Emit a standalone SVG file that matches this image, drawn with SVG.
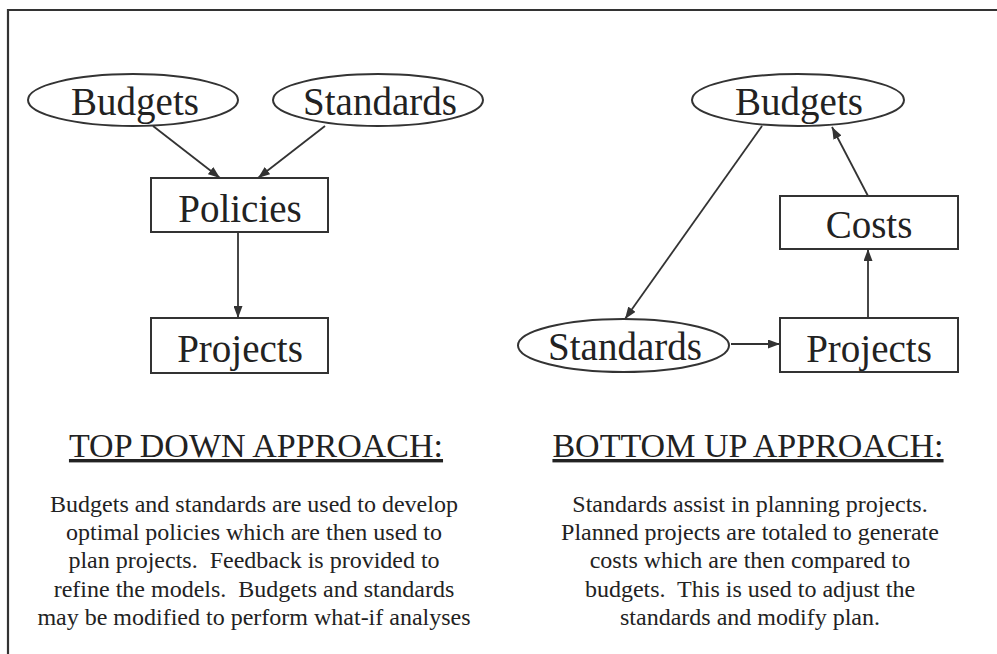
<svg xmlns="http://www.w3.org/2000/svg" width="997" height="654" viewBox="0 0 997 654">
  <style>
    text { font-family: 'Liberation Serif', Tinos, 'Times New Roman', Times, 'DejaVu Serif', 'Noto Serif', serif; fill: #222; text-anchor: middle; }
    .node { font-size: 39px; }
    .head { font-size: 34px; text-decoration: underline; }
    .body { font-size: 24px; }
    .shape { fill: #fff; stroke: #333; stroke-width: 2; }
    .conn { stroke: #333; stroke-width: 1.8; fill: none; marker-end: url(#arrow); }
    .frame { stroke: #333; stroke-width: 2.2; fill: none; }
  </style>
  <defs>
    <marker id="arrow" markerUnits="userSpaceOnUse" markerWidth="12" markerHeight="9" refX="12" refY="4.5" orient="auto">
      <path d="M0,0 L12,4.5 L0,9 z" fill="#333"/>
    </marker>
  </defs>
  <rect width="997" height="654" fill="#fff"/>
  <path class="frame" d="M8,654 L8,10 L997,10"/>

  <g id="connectors">
    <line class="conn" x1="153" y1="126" x2="220" y2="178"/>
    <line class="conn" x1="325" y1="126" x2="258" y2="178"/>
    <line class="conn" x1="238" y1="232" x2="238" y2="318"/>
    <line class="conn" x1="762" y1="126" x2="625" y2="319"/>
    <line class="conn" x1="868" y1="196" x2="832" y2="127"/>
    <line class="conn" x1="868" y1="318" x2="868" y2="249"/>
    <line class="conn" x1="731" y1="344" x2="780" y2="344"/>
  </g>

  <g id="td-budgets">
    <ellipse class="shape" cx="133" cy="100" rx="105" ry="26"/>
    <text class="node" x="135" y="115">Budgets</text>
  </g>
  <g id="td-standards">
    <ellipse class="shape" cx="378" cy="100" rx="105" ry="26"/>
    <text class="node" x="380" y="115">Standards</text>
  </g>
  <g id="td-policies">
    <rect class="shape" x="151" y="178" width="177" height="54"/>
    <text class="node" x="240" y="222">Policies</text>
  </g>
  <g id="td-projects">
    <rect class="shape" x="151" y="318" width="177" height="55"/>
    <text class="node" x="240" y="362">Projects</text>
  </g>

  <g id="bu-budgets">
    <ellipse class="shape" cx="798" cy="100" rx="106" ry="26"/>
    <text class="node" x="799" y="115">Budgets</text>
  </g>
  <g id="bu-costs">
    <rect class="shape" x="780" y="196" width="178" height="53"/>
    <text class="node" x="869" y="238">Costs</text>
  </g>
  <g id="bu-projects">
    <rect class="shape" x="780" y="318" width="178" height="54"/>
    <text class="node" x="869" y="362">Projects</text>
  </g>
  <g id="bu-standards">
    <ellipse class="shape" cx="623.5" cy="345.5" rx="105.5" ry="26.5"/>
    <text class="node" x="625" y="360">Standards</text>
  </g>

  <g id="td-caption">
    <text class="head" x="256" y="457">TOP DOWN APPROACH:</text>
    <text class="body" x="254" y="512">Budgets and standards are used to develop</text>
    <text class="body" x="254" y="540">optimal policies which are then used to</text>
    <text class="body" x="254" y="568" xml:space="preserve">plan projects.  Feedback is provided to</text>
    <text class="body" x="254" y="597" xml:space="preserve">refine the models.  Budgets and standards</text>
    <text class="body" x="254" y="625">may be modified to perform what-if analyses</text>
  </g>
  <g id="bu-caption">
    <text class="head" x="748" y="457">BOTTOM UP APPROACH:</text>
    <text class="body" x="750" y="512">Standards assist in planning projects.</text>
    <text class="body" x="750" y="540">Planned projects are totaled to generate</text>
    <text class="body" x="750" y="568">costs which are then compared to</text>
    <text class="body" x="750" y="597" xml:space="preserve">budgets.  This is used to adjust the</text>
    <text class="body" x="750" y="625">standards and modify plan.</text>
  </g>
</svg>
